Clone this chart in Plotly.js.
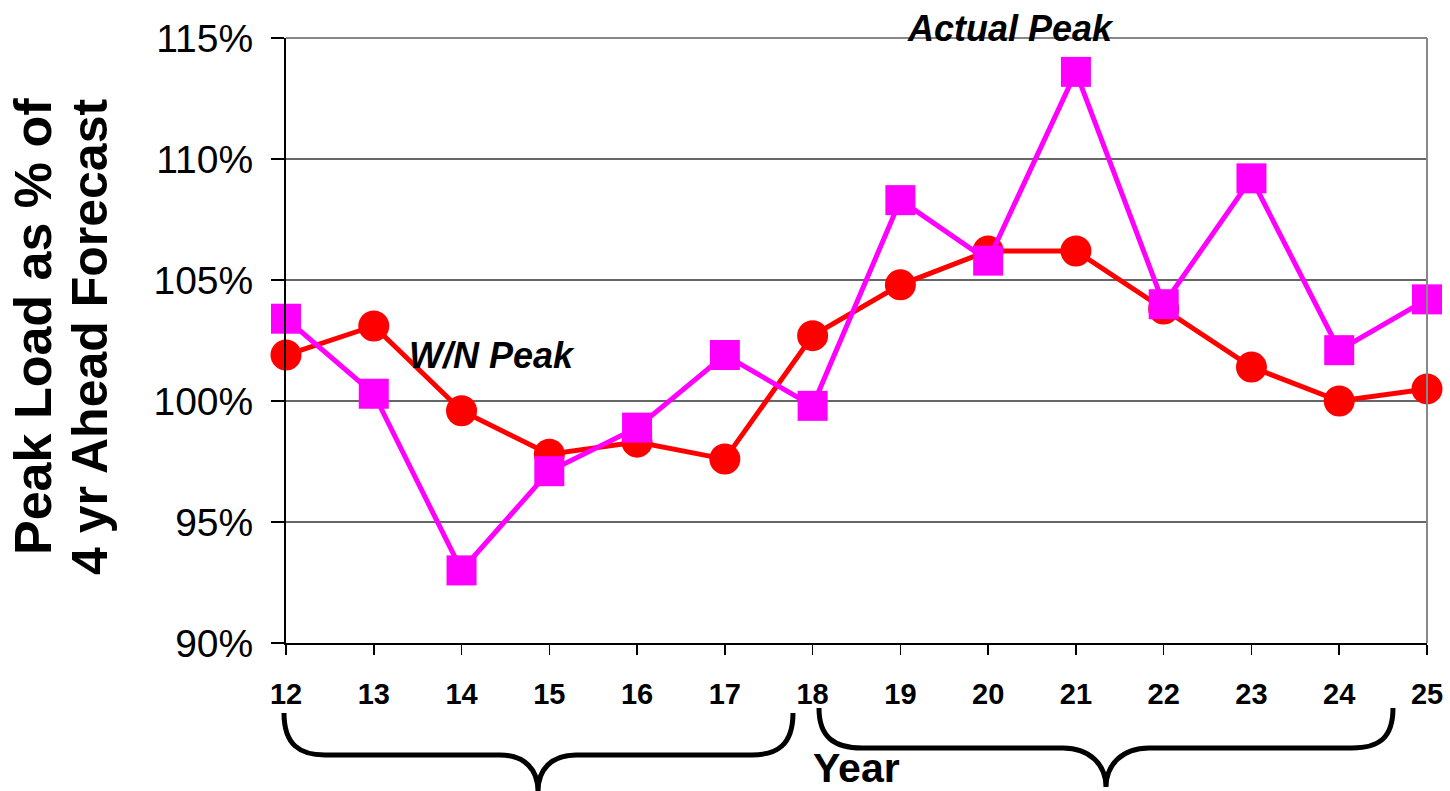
<!DOCTYPE html>
<html>
<head>
<meta charset="utf-8">
<script src="https://cdn.plot.ly/plotly-3.0.1.min.js"></script>
<style>
  html, body { margin: 0; padding: 0; background: #fff; }
  #chart { width: 1450px; height: 791px; }
</style>
</head>
<body>
<div id="chart"></div>
<script>
// Years (two-digit) on the x axis
const years = [12, 13, 14, 15, 16, 17, 18, 19, 20, 21, 22, 23, 24, 25];
const yearLabels = ['12', '13', '14', '15', '16', '17', '18', '19', '20', '21', '22', '23', '24', '25'];

// Peak load as % of the 4-year-ahead forecast
const wnPeak     = [101.9, 103.1, 99.6, 97.8, 98.3, 97.6, 102.7, 104.8, 106.2, 106.2, 103.8, 101.4, 100.0, 100.5];
const actualPeak = [103.4, 100.3, 93.0, 97.1, 98.9, 101.9, 99.8, 108.3, 105.8, 113.6, 104.0, 109.2, 102.1, 104.2];

// Y axis ticks
const yTickVals = [90, 95, 100, 105, 110, 115];
const yTickText = ['90%', '95%', '100%', '105%', '110%', '115%'];

// Plot-area geometry (pixels in the 1450x791 page)
const W = 1450, H = 791;
const PL = 286, PR = 1427, PT = 38, PB = 643;
const px = X => (X - PL) / (PR - PL);
const py = Y => (PB - Y) / (PB - PT);

// Build an SVG path in paper units from pixel-space commands
function paperPath(cmds) {
  return cmds.map(c => {
    const [op, ...pts] = c;
    const out = [];
    for (let i = 0; i < pts.length; i += 2) out.push(px(pts[i]).toFixed(5) + ',' + py(pts[i + 1]).toFixed(5));
    return op + ' ' + out.join(' ');
  }).join(' ');
}

const sans = 'Liberation Sans, Arial, sans-serif';

const braceLeft = paperPath([
  ['M', 284, 713],
  ['C', 284, 745, 300, 755, 325, 755],
  ['L', 500, 755],
  ['C', 525, 755, 538, 770, 538, 791],
  ['C', 538, 770, 551, 755, 576, 755],
  ['L', 752, 755],
  ['C', 777, 755, 793, 745, 793, 713]
]);
const braceRight = paperPath([
  ['M', 819, 708],
  ['C', 819, 738, 835, 748, 862, 748],
  ['L', 1063, 748],
  ['C', 1090, 748, 1106, 765, 1106, 787],
  ['C', 1106, 765, 1122, 748, 1149, 748],
  ['L', 1352, 748],
  ['C', 1379, 748, 1393, 738, 1393, 708]
]);

const traces = [
  {
    x: years, y: wnPeak, type: 'scatter', mode: 'lines+markers', name: 'W/N Peak',
    line: { color: '#FF0000', width: 5 },
    marker: { symbol: 'circle', size: 31, color: '#FF0000' },
    cliponaxis: false, hoverinfo: 'skip'
  },
  {
    x: years, y: actualPeak, type: 'scatter', mode: 'lines+markers', name: 'Actual Peak',
    line: { color: '#FF00FF', width: 5 },
    marker: { symbol: 'square', size: 30, color: '#FF00FF' },
    cliponaxis: false, hoverinfo: 'skip'
  }
];

const layout = {
  width: W, height: H,
  margin: { l: PL, r: W - PR, t: PT, b: H - PB, pad: 0 },
  paper_bgcolor: '#ffffff', plot_bgcolor: '#ffffff',
  showlegend: false,
  xaxis: {
    range: [12, 25], tickvals: years, ticktext: yearLabels,
    ticks: 'outside', ticklen: 10, tickwidth: 1.5, tickcolor: '#000',
    showline: true, linecolor: '#000', linewidth: 2,
    showgrid: false, zeroline: false,
    ticklabelstandoff: 14,
    tickfont: { family: sans, size: 29, color: '#000', weight: 'bold' }
  },
  yaxis: {
    range: [90, 115], tickvals: yTickVals, ticktext: yTickText,
    ticks: 'outside', ticklen: 13, tickwidth: 1.5, tickcolor: '#000',
    showline: true, linecolor: '#000', linewidth: 2,
    showgrid: true, gridcolor: '#666', gridwidth: 1.5,
    zeroline: false,
    ticklabelstandoff: 10,
    tickfont: { family: sans, size: 39, color: '#000' }
  },
  shapes: [
    { type: 'line', xref: 'paper', yref: 'paper', x0: 0, x1: 1, y0: 1, y1: 1, line: { color: '#888', width: 2 } },
    { type: 'line', xref: 'paper', yref: 'paper', x0: 1, x1: 1, y0: 0, y1: 1, line: { color: '#888', width: 2 } },
    { type: 'path', xref: 'paper', yref: 'paper', path: braceLeft, line: { color: '#000', width: 5 } },
    { type: 'path', xref: 'paper', yref: 'paper', path: braceRight, line: { color: '#000', width: 5 } }
  ],
  annotations: [
    { text: 'Peak Load as % of', xref: 'paper', yref: 'paper', x: px(33), y: py(327),
      textangle: -90, showarrow: false, xanchor: 'center', yanchor: 'middle',
      font: { family: sans, size: 52, color: '#000', weight: 'bold' } },
    { text: '4 yr Ahead Forecast', xref: 'paper', yref: 'paper', x: px(90), y: py(337),
      textangle: -90, showarrow: false, xanchor: 'center', yanchor: 'middle',
      font: { family: sans, size: 50, color: '#000', weight: 'bold' } },
    { text: 'Year', xref: 'x', yref: 'paper', x: 18.5, y: py(768),
      showarrow: false, xanchor: 'center', yanchor: 'middle',
      font: { family: sans, size: 41, color: '#000', weight: 'bold' } },
    { text: 'W/N Peak', xref: 'x', yref: 'y', x: 14.35, y: 101.9,
      showarrow: false, xanchor: 'center', yanchor: 'middle',
      font: { family: sans, size: 36, color: '#000', weight: 'bold', style: 'italic' } },
    { text: 'Actual Peak', xref: 'x', yref: 'paper', x: 20.25, y: py(28),
      showarrow: false, xanchor: 'center', yanchor: 'middle',
      font: { family: sans, size: 36, color: '#000', weight: 'bold', style: 'italic' } }
  ]
};

Plotly.newPlot('chart', traces, layout, { displayModeBar: false, staticPlot: true });
</script>
</body>
</html>
